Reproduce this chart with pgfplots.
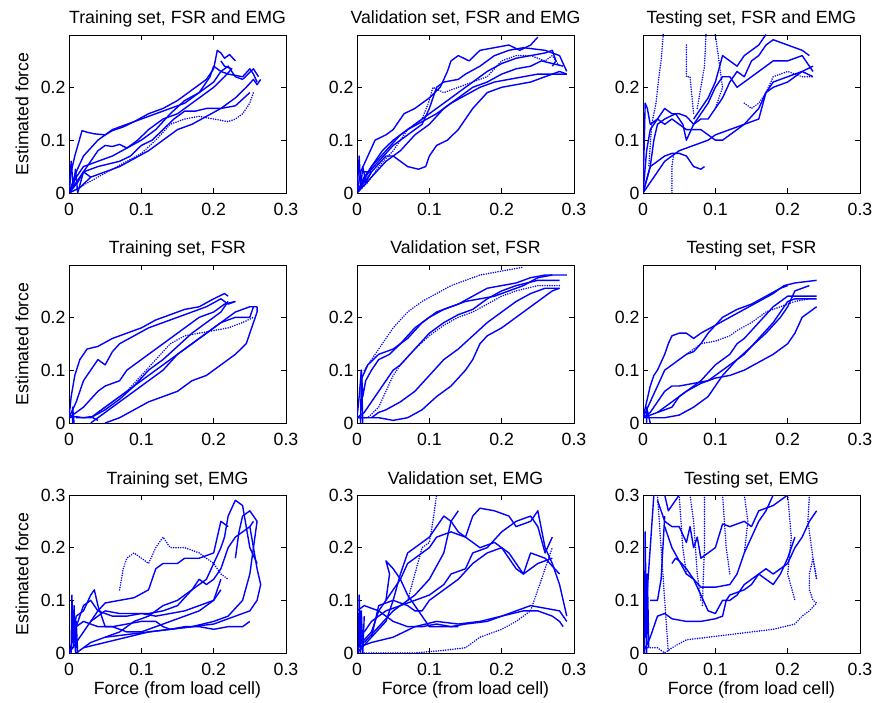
\documentclass[border=0pt]{standalone}
\usepackage{fontspec}
\setmainfont{Liberation Sans}
\usepackage{pgfplots}
\pgfplotsset{compat=1.18}
\definecolor{mb}{RGB}{0,0,255}
\newcommand\ff{\fontsize{17.7}{20}\selectfont}
\pgfplotsset{
  base/.style={
    scale only axis, width=217pt, height=158pt,
    anchor=south west,
    xmin=0, xmax=0.3, ymin=0,
    xtick={0,0.1,0.2,0.3}, xticklabels={0,0.1,0.2,0.3},
    tick align=inside, major tick length=5pt,
    tick style={black, line width=0.6pt},
    axis line style={line width=0.8pt},
    /pgf/number format/assume math mode=true,
    tick label style={font=\ff},
    xticklabel style={yshift=-7pt},
    title style={at={(axis description cs:0.5,1)}, anchor=base, yshift=5pt, font=\ff},
    xlabel style={at={(axis description cs:0.5,-0.234)}, anchor=center, font=\ff},
    ylabel style={at={(axis description cs:-0.2166,0.5)}, anchor=center, font=\ff},
    clip=true,
  },
  r12/.style={ymax=0.299, ytick={0,0.1,0.2}, yticklabels={0,0.1,0.2}},
  r3/.style={ymax=0.3, ytick={0,0.1,0.2,0.3}, yticklabels={0,0.1,0.2,0.3}, xlabel={Force (from load cell)}},
  s/.style={color=mb, line width=1.4pt, line join=round, mark=none},
  d/.style={color=mb, line width=1.7pt, line cap=round, dash pattern=on 0pt off 2.4pt, mark=none},
}
\begin{document}
\begin{tikzpicture}
\path[use as bounding box] (0,0) rectangle (874pt,702pt);
%================ Row 1 =================
\begin{axis}[base, r12, at={(69pt,509pt)}, title={Training set, FSR and EMG}, ylabel={Estimated force}]
\addplot[s] coordinates {(0,0)(0.003,0.04)(0.008,0.07)(0.018,0.118)(0.025,0.115)(0.035,0.112)(0.05,0.11)(0.06,0.118)(0.075,0.125)(0.09,0.135)(0.11,0.15)(0.13,0.16)(0.15,0.175)(0.17,0.195)(0.19,0.215)(0.2,0.235)(0.205,0.27)(0.21,0.265)(0.215,0.255)(0.222,0.262)(0.23,0.25)};
\addplot[s] coordinates {(0,0)(0.01,0.02)(0.02,0.04)(0.03,0.06)(0.04,0.08)(0.05,0.09)(0.06,0.088)(0.07,0.092)(0.08,0.085)(0.095,0.1)(0.11,0.12)(0.13,0.14)(0.15,0.15)(0.17,0.17)(0.2,0.2)(0.215,0.22)(0.225,0.235)(0.215,0.24)(0.21,0.25)};
\addplot[s] coordinates {(0,0)(0.015,0.01)(0.03,0.03)(0.05,0.04)(0.07,0.05)(0.09,0.065)(0.11,0.08)(0.13,0.1)(0.15,0.12)(0.17,0.13)(0.19,0.145)(0.21,0.16)(0.23,0.18)(0.245,0.2)(0.255,0.215)(0.26,0.205)(0.265,0.215)};
\addplot[s] coordinates {(0.26,0.21)(0.255,0.225)(0.25,0.235)(0.24,0.22)(0.22,0.225)(0.21,0.23)(0.2,0.21)(0.18,0.19)(0.16,0.17)(0.14,0.16)(0.12,0.15)(0.1,0.14)(0.08,0.13)(0.06,0.12)(0.04,0.1)(0.02,0.07)(0.01,0.04)(0,0)};
\addplot[s] coordinates {(0,0)(0.012,0.02)(0.02,0.04)(0.03,0.045)(0.04,0.05)(0.055,0.055)(0.07,0.06)(0.085,0.07)(0.1,0.09)(0.115,0.1)(0.13,0.12)(0.145,0.14)(0.16,0.155)(0.175,0.155)(0.19,0.16)(0.21,0.16)(0.23,0.165)(0.25,0.19)};
\addplot[d] coordinates {(0,0)(0.02,0.015)(0.04,0.03)(0.06,0.045)(0.08,0.06)(0.1,0.075)(0.12,0.1)(0.14,0.13)(0.16,0.14)(0.18,0.145)(0.2,0.14)(0.22,0.135)(0.23,0.14)(0.24,0.15)(0.25,0.17)(0.255,0.19)};
\addplot[s] coordinates {(0,0)(0.01,0.03)(0.02,0.05)(0.04,0.06)(0.06,0.07)(0.08,0.085)(0.1,0.1)(0.12,0.12)(0.14,0.15)(0.16,0.175)(0.18,0.19)(0.195,0.22)(0.2,0.24)(0.21,0.23)(0.22,0.24)(0.23,0.22)(0.24,0.215)(0.255,0.235)(0.262,0.22)};
\addplot[s] coordinates {(0,0)(0.003,0.06)(0.006,0.01)(0.009,0.045)(0.012,0.0)(0.02,0.04)(0.03,0.03)};
\end{axis}
\begin{axis}[base, r12, at={(357pt,509pt)}, title={Validation set, FSR and EMG}]
\addplot[s] coordinates {(0,0)(0.005,0.04)(0.015,0.07)(0.025,0.1)(0.04,0.11)(0.05,0.12)(0.065,0.15)(0.08,0.16)(0.1,0.18)(0.115,0.2)(0.125,0.23)(0.13,0.25)(0.14,0.26)(0.155,0.25)(0.17,0.27)(0.19,0.275)(0.21,0.28)(0.225,0.27)(0.24,0.28)(0.25,0.295)};
\addplot[s] coordinates {(0,0)(0.01,0.03)(0.02,0.05)(0.035,0.08)(0.05,0.1)(0.07,0.12)(0.09,0.135)(0.11,0.15)(0.13,0.17)(0.15,0.185)(0.17,0.2)(0.19,0.21)(0.21,0.215)(0.23,0.22)(0.25,0.225)(0.27,0.225)(0.29,0.225)};
\addplot[s] coordinates {(0,0)(0.02,0.04)(0.04,0.07)(0.05,0.07)(0.06,0.06)(0.07,0.05)(0.085,0.045)(0.095,0.05)(0.1,0.07)(0.11,0.09)(0.125,0.1)(0.14,0.12)(0.16,0.16)(0.18,0.19)(0.2,0.2)(0.22,0.205)(0.24,0.21)(0.26,0.22)(0.28,0.23)(0.29,0.225)};
\addplot[s] coordinates {(0,0)(0.01,0.03)(0.03,0.06)(0.05,0.09)(0.07,0.11)(0.09,0.13)(0.1,0.16)(0.11,0.2)(0.12,0.21)(0.14,0.215)(0.15,0.225)(0.17,0.24)(0.19,0.26)(0.21,0.27)(0.23,0.275)(0.26,0.27)(0.28,0.26)(0.29,0.23)};
\addplot[s] coordinates {(0,0)(0.02,0.05)(0.04,0.08)(0.06,0.11)(0.08,0.13)(0.1,0.15)(0.12,0.17)(0.14,0.19)(0.16,0.21)(0.18,0.23)(0.2,0.245)(0.22,0.255)(0.24,0.26)(0.26,0.265)(0.27,0.27)(0.275,0.25)(0.27,0.24)};
\addplot[d] coordinates {(0,0)(0.015,0.02)(0.03,0.05)(0.05,0.08)(0.07,0.12)(0.09,0.14)(0.1,0.175)(0.105,0.2)(0.12,0.19)(0.14,0.2)(0.16,0.21)(0.18,0.22)(0.2,0.25)(0.22,0.26)(0.24,0.26)(0.26,0.25)(0.27,0.26)(0.28,0.24)};
\addplot[s] coordinates {(0,0)(0.02,0.03)(0.04,0.06)(0.06,0.08)(0.08,0.11)(0.1,0.13)(0.12,0.16)(0.14,0.18)(0.16,0.2)(0.18,0.21)(0.2,0.225)(0.22,0.235)(0.24,0.24)(0.255,0.25)(0.27,0.245)(0.285,0.24)};
\addplot[s] coordinates {(0,0)(0.003,0.07)(0.005,0.01)(0.008,0.05)(0.012,0.02)(0.02,0.04)(0.01,0.04)};
\end{axis}
\begin{axis}[base, r12, at={(643pt,509pt)}, title={Testing set, FSR and EMG}]
\addplot[s] coordinates {(0,0)(0.003,0.17)(0.006,0.16)(0.01,0.13)(0.02,0.14)(0.03,0.16)(0.04,0.15)(0.05,0.15)(0.06,0.145)(0.07,0.13)(0.08,0.14)(0.09,0.14)(0.1,0.16)(0.11,0.18)(0.12,0.21)(0.13,0.23)(0.14,0.22)(0.15,0.25)(0.16,0.26)(0.17,0.28)(0.18,0.29)(0.2,0.28)(0.22,0.27)(0.23,0.26)};
\addplot[s] coordinates {(0,0)(0.01,0.05)(0.02,0.06)(0.03,0.07)(0.04,0.075)(0.05,0.075)(0.06,0.07)(0.07,0.05)(0.08,0.045)(0.085,0.05)};
\addplot[s] coordinates {(0,0)(0.02,0.04)(0.03,0.06)(0.04,0.07)(0.05,0.08)(0.07,0.09)(0.09,0.1)(0.1,0.11)(0.12,0.12)(0.14,0.13)(0.16,0.16)(0.17,0.19)(0.18,0.21)(0.2,0.22)(0.22,0.23)(0.235,0.22)};
\addplot[s] coordinates {(0,0)(0.01,0.05)(0.015,0.1)(0.02,0.13)(0.03,0.14)(0.045,0.15)(0.055,0.13)(0.06,0.1)(0.07,0.13)(0.08,0.15)(0.09,0.17)(0.1,0.2)(0.11,0.22)(0.12,0.22)(0.13,0.2)(0.14,0.21)(0.16,0.23)(0.18,0.25)(0.2,0.25)(0.22,0.26)(0.235,0.23)};
\addplot[s] coordinates {(0,0)(0.005,0.08)(0.01,0.12)(0.02,0.14)(0.03,0.13)(0.04,0.14)(0.06,0.12)(0.08,0.12)(0.09,0.11)(0.1,0.1)(0.11,0.1)(0.12,0.11)(0.14,0.13)(0.16,0.14)(0.17,0.19)(0.18,0.2)(0.2,0.21)(0.22,0.23)(0.235,0.24)};
\addplot[s] coordinates {(0.07,0.14)(0.08,0.16)(0.09,0.18)(0.1,0.21)(0.11,0.26)(0.12,0.25)(0.13,0.24)(0.14,0.26)(0.15,0.27)(0.16,0.28)(0.17,0.3)};
\addplot[d] coordinates {(0.028,0.3)(0.025,0.25)(0.022,0.22)(0.018,0.17)(0.012,0.13)(0.008,0.05)};
\addplot[d] coordinates {(0.04,0)(0.04,0.05)(0.042,0.07)};
\addplot[d] coordinates {(0.06,0.28)(0.06,0.22)(0.065,0.22)(0.07,0.15)};
\addplot[d] coordinates {(0.087,0.3)(0.085,0.24)(0.08,0.2)(0.075,0.16)};
\addplot[d] coordinates {(0.1,0.3)(0.105,0.25)(0.11,0.2)(0.1,0.16)};
\addplot[d] coordinates {(0.14,0.17)(0.15,0.16)(0.16,0.17)(0.17,0.19)(0.18,0.22)(0.2,0.23)(0.22,0.22)(0.235,0.22)};
\end{axis}
%================ Row 2 =================
\begin{axis}[base, r12, at={(69pt,279pt)}, title={Training set, FSR}, ylabel={Estimated force}]
\addplot[s] coordinates {(0,0.01)(0.003,0.05)(0.008,0.09)(0.015,0.12)(0.025,0.14)(0.04,0.145)(0.06,0.16)(0.08,0.17)(0.1,0.18)(0.12,0.195)(0.14,0.205)(0.16,0.215)(0.18,0.22)(0.2,0.235)(0.215,0.245)(0.22,0.24)};
\addplot[s] coordinates {(0,0.01)(0.01,0.04)(0.02,0.08)(0.03,0.1)(0.04,0.12)(0.05,0.11)(0.06,0.135)(0.07,0.15)(0.09,0.165)(0.11,0.18)(0.13,0.19)(0.15,0.2)(0.17,0.21)(0.19,0.22)(0.21,0.235)(0.22,0.225)(0.23,0.23)};
\addplot[s] coordinates {(0,0.01)(0.02,0.03)(0.04,0.06)(0.05,0.07)(0.06,0.075)(0.07,0.08)(0.08,0.1)(0.1,0.12)(0.12,0.14)(0.14,0.16)(0.16,0.18)(0.18,0.2)(0.2,0.21)(0.215,0.225)(0.23,0.23)};
\addplot[s] coordinates {(0.01,0.01)(0.03,0.01)(0.05,0.03)(0.07,0.05)(0.09,0.07)(0.11,0.09)(0.13,0.11)(0.15,0.13)(0.17,0.15)(0.19,0.17)(0.21,0.19)(0.23,0.21)(0.25,0.22)(0.26,0.22)};
\addplot[s] coordinates {(0.05,0)(0.07,0.01)(0.09,0.025)(0.11,0.04)(0.13,0.05)(0.15,0.06)(0.17,0.08)(0.19,0.09)(0.21,0.11)(0.23,0.13)(0.245,0.15)(0.25,0.17)(0.255,0.19)(0.26,0.21)(0.26,0.22)};
\addplot[s] coordinates {(0.03,0)(0.05,0.02)(0.07,0.04)(0.09,0.06)(0.11,0.08)(0.13,0.1)(0.15,0.13)(0.17,0.15)(0.19,0.17)(0.21,0.19)(0.23,0.2)(0.25,0.2)(0.255,0.22)};
\addplot[d] coordinates {(0.04,0.02)(0.06,0.04)(0.08,0.06)(0.1,0.09)(0.12,0.12)(0.14,0.15)(0.16,0.165)(0.18,0.17)(0.2,0.175)(0.22,0.18)(0.24,0.19)(0.255,0.2)};
\addplot[s] coordinates {(0.03,0.01)(0.05,0.025)(0.07,0.045)(0.09,0.07)(0.11,0.1)(0.13,0.12)(0.15,0.145)(0.17,0.17)(0.19,0.19)(0.2,0.2)(0.21,0.21)(0.22,0.23)};
\addplot[s] coordinates {(0,0.01)(0.01,0.012)(0.02,0.01)(0.03,0.012)(0.04,0.005)};
\addplot[s] coordinates {(0.005,0)(0.005,0.03)(0.007,0)};
\end{axis}
\begin{axis}[base, r12, at={(357pt,279pt)}, title={Validation set, FSR}]
\addplot[s] coordinates {(0,0.01)(0.003,0.05)(0.006,0.1)(0.008,0.05)(0.012,0.08)(0.02,0.1)(0.03,0.12)(0.045,0.13)(0.06,0.15)(0.08,0.18)(0.1,0.2)(0.12,0.215)(0.14,0.225)(0.16,0.24)(0.18,0.255)(0.2,0.26)(0.22,0.265)(0.24,0.275)(0.26,0.28)(0.29,0.28)};
\addplot[d] coordinates {(0.01,0.1)(0.02,0.12)(0.03,0.14)(0.04,0.16)(0.05,0.18)(0.07,0.21)(0.09,0.23)(0.11,0.245)(0.13,0.26)(0.15,0.27)(0.17,0.28)(0.19,0.285)(0.21,0.29)(0.23,0.295)};
\addplot[s] coordinates {(0.005,0.08)(0.015,0.11)(0.03,0.13)(0.05,0.14)(0.07,0.16)(0.09,0.19)(0.11,0.21)(0.13,0.22)(0.15,0.23)(0.17,0.235)(0.19,0.24)(0.21,0.25)(0.23,0.26)(0.25,0.275)(0.27,0.28)};
\addplot[s] coordinates {(0,0.01)(0.01,0.02)(0.02,0.04)(0.03,0.06)(0.04,0.08)(0.05,0.1)(0.06,0.11)(0.08,0.14)(0.1,0.17)(0.12,0.19)(0.14,0.205)(0.16,0.215)(0.18,0.235)(0.2,0.25)(0.22,0.26)(0.25,0.27)(0.28,0.27)};
\addplot[d] coordinates {(0,0.01)(0.015,0.01)(0.03,0.03)(0.04,0.06)(0.05,0.09)(0.06,0.11)(0.08,0.14)(0.1,0.165)(0.12,0.185)(0.14,0.2)(0.16,0.21)(0.18,0.225)(0.2,0.24)(0.22,0.25)(0.25,0.26)(0.28,0.26)};
\addplot[s] coordinates {(0.02,0.01)(0.03,0.02)(0.04,0.025)(0.06,0.04)(0.08,0.06)(0.1,0.09)(0.12,0.12)(0.14,0.14)(0.16,0.165)(0.18,0.19)(0.2,0.21)(0.22,0.23)(0.24,0.245)(0.26,0.255)(0.28,0.255)};
\addplot[s] coordinates {(0,0.01)(0.03,0.01)(0.05,0.005)(0.07,0.01)(0.09,0.025)(0.11,0.05)(0.13,0.07)(0.15,0.1)(0.16,0.12)(0.17,0.15)(0.18,0.165)(0.2,0.18)(0.22,0.2)(0.24,0.22)(0.26,0.24)(0.27,0.25)(0.28,0.255)};
\addplot[s] coordinates {(0.005,0)(0.006,0.1)(0.008,0)};
\end{axis}
\begin{axis}[base, r12, at={(643pt,279pt)}, title={Testing set, FSR}]
\addplot[s] coordinates {(0,0.01)(0.005,0.04)(0.01,0.07)(0.015,0.09)(0.02,0.1)(0.03,0.13)(0.035,0.15)(0.04,0.165)(0.05,0.17)(0.06,0.17)(0.07,0.16)(0.08,0.17)(0.1,0.185)(0.12,0.2)(0.14,0.215)(0.16,0.23)(0.18,0.245)(0.195,0.26)(0.21,0.265)(0.24,0.27)};
\addplot[s] coordinates {(0,0.01)(0.01,0.04)(0.02,0.07)(0.03,0.1)(0.04,0.11)(0.05,0.12)(0.06,0.13)(0.07,0.135)(0.08,0.15)(0.09,0.17)(0.1,0.185)(0.11,0.2)(0.13,0.215)(0.15,0.225)(0.17,0.24)(0.19,0.255)(0.2,0.26)};
\addplot[s] coordinates {(0,0.01)(0.01,0.02)(0.02,0.04)(0.03,0.06)(0.04,0.07)(0.05,0.07)(0.07,0.075)(0.09,0.08)(0.1,0.09)(0.12,0.11)(0.14,0.13)(0.16,0.16)(0.18,0.19)(0.19,0.21)(0.2,0.23)(0.21,0.235)(0.23,0.235)(0.24,0.235)};
\addplot[s] coordinates {(0,0.01)(0.02,0.02)(0.04,0.03)(0.05,0.05)(0.06,0.06)(0.08,0.08)(0.1,0.11)(0.12,0.13)(0.13,0.15)(0.14,0.16)(0.16,0.19)(0.18,0.22)(0.2,0.24)(0.22,0.24)(0.24,0.24)};
\addplot[s] coordinates {(0,0.01)(0.03,0.01)(0.05,0.015)(0.07,0.03)(0.09,0.05)(0.1,0.07)(0.11,0.09)(0.13,0.12)(0.15,0.145)(0.17,0.17)(0.19,0.2)(0.2,0.22)(0.21,0.25)(0.23,0.26)};
\addplot[s] coordinates {(0.02,0.02)(0.04,0.04)(0.06,0.06)(0.08,0.075)(0.1,0.085)(0.12,0.09)(0.14,0.1)(0.16,0.115)(0.18,0.13)(0.2,0.15)(0.21,0.17)(0.22,0.2)(0.23,0.21)(0.24,0.22)};
\addplot[d] coordinates {(0.06,0.13)(0.07,0.14)(0.08,0.15)(0.1,0.155)(0.12,0.165)(0.13,0.175)(0.15,0.19)(0.17,0.21)(0.19,0.22)(0.21,0.23)(0.23,0.235)};
\addplot[s] coordinates {(0.005,0)(0.005,0.03)(0.01,0)};
\end{axis}
%================ Row 3 =================
\begin{axis}[base, r3, at={(69pt,49pt)}, title={Training set, EMG}, ylabel={Estimated force}]
\addplot[s] coordinates {(0,0)(0.01,0.05)(0.02,0.09)(0.03,0.1)(0.04,0.08)(0.06,0.07)(0.08,0.07)(0.1,0.075)(0.12,0.07)(0.14,0.075)(0.16,0.08)(0.18,0.09)(0.2,0.1)(0.21,0.14)};
\addplot[d] coordinates {(0.07,0.12)(0.075,0.16)(0.08,0.18)(0.09,0.19)(0.1,0.18)(0.11,0.17)(0.12,0.2)(0.13,0.22)(0.14,0.2)(0.16,0.2)(0.18,0.19)(0.2,0.17)(0.21,0.15)(0.22,0.14)};
\addplot[s] coordinates {(0,0.0)(0.015,0.03)(0.03,0.06)(0.04,0.08)(0.05,0.095)(0.07,0.1)(0.09,0.105)(0.11,0.12)(0.12,0.16)(0.13,0.17)(0.15,0.17)(0.16,0.18)(0.18,0.18)(0.2,0.19)(0.21,0.25)(0.22,0.24)};
\addplot[s] coordinates {(0.01,0.0)(0.03,0.02)(0.05,0.03)(0.07,0.04)(0.09,0.06)(0.11,0.07)(0.13,0.09)(0.15,0.1)(0.17,0.12)(0.19,0.14)(0.2,0.17)(0.21,0.2)(0.215,0.22)(0.22,0.26)(0.23,0.29)(0.24,0.28)(0.25,0.2)(0.26,0.17)};
\addplot[s] coordinates {(0.02,0.01)(0.05,0.02)(0.08,0.03)(0.11,0.04)(0.14,0.045)(0.17,0.05)(0.2,0.06)(0.22,0.07)(0.24,0.1)(0.25,0.15)(0.255,0.2)(0.26,0.25)(0.25,0.27)(0.24,0.26)(0.235,0.23)(0.23,0.18)};
\addplot[s] coordinates {(0.05,0.03)(0.08,0.035)(0.11,0.04)(0.14,0.045)(0.17,0.05)(0.2,0.055)(0.23,0.07)(0.25,0.08)(0.26,0.1)(0.265,0.13)(0.26,0.16)(0.255,0.2)(0.25,0.24)};
\addplot[s] coordinates {(0.005,0.03)(0.01,0.07)(0.02,0.08)(0.03,0.11)(0.035,0.12)(0.04,0.09)(0.05,0.05)(0.06,0.05)(0.08,0.04)(0.1,0.04)(0.12,0.05)(0.14,0.06)(0.16,0.07)(0.18,0.08)(0.2,0.1)(0.21,0.12)};
\addplot[s] coordinates {(0.01,0.05)(0.02,0.06)(0.04,0.05)(0.06,0.05)(0.08,0.055)(0.1,0.06)(0.12,0.06)(0.13,0.05)(0.14,0.045)(0.16,0.05)(0.18,0.05)(0.2,0.045)(0.22,0.05)(0.24,0.05)(0.25,0.06)};
\addplot[s] coordinates {(0.03,0.06)(0.05,0.08)(0.07,0.075)(0.09,0.075)(0.11,0.075)(0.13,0.08)(0.15,0.09)(0.17,0.12)(0.18,0.14)(0.19,0.13)(0.2,0.14)(0.21,0.16)(0.22,0.2)(0.23,0.22)(0.25,0.24)(0.255,0.25)};
\addplot[s] coordinates {(0.003,0)(0.004,0.11)(0.006,0.01)(0.007,0.09)(0.009,0.0)(0.01,0.06)(0.012,0)};
\end{axis}
\begin{axis}[base, r3, at={(357pt,49pt)}, title={Validation set, EMG}]
\addplot[d] coordinates {(0.07,0.1)(0.08,0.15)(0.09,0.2)(0.1,0.21)(0.105,0.25)(0.11,0.3)};
\addplot[s] coordinates {(0.04,0.1)(0.045,0.15)(0.04,0.175)(0.05,0.16)(0.06,0.14)(0.07,0.11)(0.08,0.09)(0.09,0.07)(0.1,0.05)(0.12,0.05)(0.14,0.05)};
\addplot[s] coordinates {(0,0)(0.02,0.03)(0.04,0.06)(0.05,0.1)(0.06,0.15)(0.07,0.19)(0.08,0.2)(0.09,0.21)(0.1,0.22)(0.11,0.24)(0.12,0.26)(0.13,0.25)(0.14,0.23)(0.15,0.22)(0.16,0.26)(0.17,0.275)(0.19,0.27)(0.21,0.26)(0.22,0.24)(0.24,0.25)(0.25,0.27)(0.26,0.2)(0.27,0.17)(0.28,0.13)(0.29,0.07)};
\addplot[s] coordinates {(0,0.01)(0.02,0.04)(0.03,0.08)(0.04,0.1)(0.05,0.12)(0.06,0.14)(0.07,0.17)(0.08,0.18)(0.09,0.19)(0.1,0.2)(0.11,0.22)(0.13,0.23)(0.15,0.22)(0.17,0.2)(0.19,0.21)(0.21,0.19)(0.23,0.15)(0.25,0.17)(0.27,0.18)};
\addplot[s] coordinates {(0.01,0.04)(0.02,0.06)(0.04,0.08)(0.06,0.09)(0.08,0.1)(0.1,0.11)(0.12,0.13)(0.13,0.15)(0.15,0.16)(0.16,0.19)(0.18,0.2)(0.2,0.23)(0.22,0.25)(0.24,0.26)(0.25,0.24)(0.26,0.19)(0.27,0.22)};
\addplot[s] coordinates {(0.02,0.03)(0.03,0.09)(0.05,0.1)(0.07,0.09)(0.08,0.08)(0.09,0.08)(0.1,0.1)(0.12,0.12)(0.14,0.14)(0.16,0.17)(0.18,0.19)(0.2,0.2)(0.22,0.16)(0.23,0.15)(0.24,0.19)(0.26,0.18)(0.28,0.15)};
\addplot[s] coordinates {(0,0.01)(0.02,0.02)(0.05,0.03)(0.08,0.05)(0.11,0.06)(0.14,0.055)(0.17,0.06)(0.2,0.07)(0.23,0.08)(0.25,0.08)(0.27,0.07)(0.28,0.06)(0.285,0.05)};
\addplot[d] coordinates {(0.01,0.0)(0.04,0.0)(0.08,0.0)(0.12,0.005)(0.15,0.01)(0.17,0.03)(0.2,0.045)(0.22,0.06)(0.24,0.08)(0.25,0.12)(0.26,0.16)(0.27,0.2)};
\addplot[s] coordinates {(0,0.08)(0.01,0.09)(0.02,0.085)(0.03,0.08)(0.04,0.07)(0.05,0.06)(0.07,0.05)(0.09,0.05)(0.11,0.055)(0.13,0.05)(0.15,0.055)(0.18,0.06)(0.2,0.07)(0.22,0.08)(0.24,0.09)(0.26,0.085)(0.28,0.08)(0.29,0.06)};
\addplot[s] coordinates {(0.01,0.02)(0.03,0.05)(0.05,0.08)(0.06,0.09)(0.08,0.11)(0.1,0.14)(0.12,0.19)(0.13,0.25)(0.14,0.27)};
\addplot[s] coordinates {(0.002,0)(0.003,0.11)(0.005,0)(0.006,0.08)(0.008,0.0)(0.01,0.07)};
\end{axis}
\begin{axis}[base, r3, at={(643pt,49pt)}, title={Testing set, EMG}]
\addplot[s] coordinates {(0,0)(0.01,0.03)(0.02,0.07)(0.03,0.075)(0.04,0.065)(0.06,0.06)(0.08,0.06)(0.1,0.065)(0.11,0.07)(0.115,0.1)(0.12,0.11)(0.14,0.12)(0.15,0.13)(0.16,0.15)(0.17,0.16)(0.18,0.15)(0.2,0.17)(0.21,0.2)(0.22,0.22)(0.23,0.25)(0.24,0.27)};
\addplot[d] coordinates {(0,0.01)(0.02,0.01)(0.03,0.0)(0.04,0.01)(0.06,0.025)(0.09,0.03)(0.12,0.035)(0.15,0.04)(0.18,0.045)(0.21,0.055)(0.22,0.07)(0.23,0.08)(0.24,0.095)(0.235,0.1)(0.23,0.12)(0.23,0.15)(0.235,0.18)(0.24,0.14)};
\addplot[s] coordinates {(0.04,0.17)(0.045,0.18)(0.05,0.175)(0.06,0.15)(0.07,0.14)(0.08,0.125)(0.1,0.125)(0.12,0.13)(0.13,0.15)(0.14,0.19)(0.15,0.22)(0.16,0.25)(0.17,0.27)(0.18,0.3)};
\addplot[s] coordinates {(0.03,0.24)(0.035,0.22)(0.04,0.2)(0.05,0.175)(0.06,0.16)(0.07,0.14)(0.08,0.11)(0.09,0.08)(0.1,0.075)(0.11,0.1)(0.12,0.1)(0.13,0.11)(0.14,0.13)(0.15,0.14)(0.16,0.15)(0.17,0.14)(0.18,0.13)(0.19,0.15)(0.2,0.18)(0.21,0.22)};
\addplot[s] coordinates {(0.02,0.29)(0.03,0.25)(0.04,0.24)(0.05,0.24)(0.06,0.21)(0.065,0.24)(0.07,0.2)(0.075,0.22)(0.08,0.18)(0.09,0.19)(0.1,0.2)(0.11,0.245)(0.12,0.24)(0.14,0.25)(0.15,0.24)(0.16,0.27)(0.18,0.28)(0.19,0.29)(0.2,0.3)};
\addplot[s] coordinates {(0.005,0.1)(0.01,0.2)(0.015,0.3)};
\addplot[s] coordinates {(0.03,0.3)(0.035,0.27)(0.04,0.28)(0.05,0.3)};
\addplot[s] coordinates {(0.01,0.1)(0.02,0.1)(0.025,0.14)(0.03,0.26)};
\addplot[d] coordinates {(0.02,0.3)(0.025,0.2)(0.03,0.1)(0.035,0.0)};
\addplot[d] coordinates {(0.05,0.3)(0.055,0.2)(0.06,0.15)};
\addplot[d] coordinates {(0.065,0.3)(0.07,0.25)(0.075,0.15)(0.08,0.1)};
\addplot[d] coordinates {(0.085,0.3)(0.085,0.2)(0.082,0.09)};
\addplot[d] coordinates {(0.11,0.3)(0.115,0.2)(0.12,0.15)};
\addplot[d] coordinates {(0.14,0.3)(0.145,0.25)(0.14,0.19)};
\addplot[d] coordinates {(0.2,0.3)(0.205,0.22)(0.2,0.15)(0.21,0.1)};
\addplot[d] coordinates {(0.23,0.3)(0.228,0.25)(0.235,0.18)(0.24,0.14)};
\addplot[s] coordinates {(0.002,0)(0.003,0.23)(0.005,0.0)(0.006,0.15)(0.008,0.01)};
\end{axis}
\end{tikzpicture}
\end{document}
